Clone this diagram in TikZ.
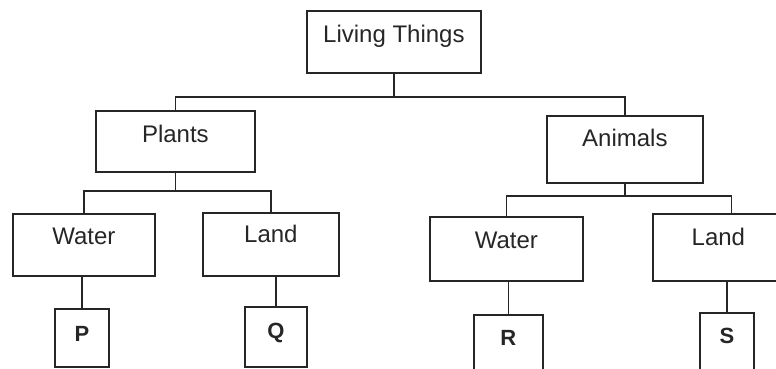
\documentclass[tikz,border=0pt]{standalone}
\usepackage{fontspec}
\setmainfont{Liberation Sans}
\usepackage{tikz}
\tikzstyle{box} = [draw=black!85, line width=1.8pt, inner ysep=0pt, anchor=north west, text=black!85, font=\fontsize{24}{28}\selectfont]
\tikzstyle{leaf} = [box, font=\fontsize{22}{26}\selectfont\bfseries]
\tikzstyle{link} = [draw=black!85, line width=1.8pt]

\begin{document}
\begin{tikzpicture}[x=1pt, y=-1pt]
    \useasboundingbox (0,0) rectangle (776,369);
    \clip (0,0) rectangle (776,369);

    % Top of the tree
    \node[box, minimum width=174pt, text height=32pt, text depth=30pt] (lt) at (306,10) {Living Things};

    % Second level
    \node[box, minimum width=159pt, text height=32pt, text depth=29pt] (plants) at (95,110) {Plants};
    \node[box, minimum width=156pt, text height=31pt, text depth=36pt] (animals) at (546,115) {Animals};

    % Third level
    \node[box, minimum width=142pt, text height=31pt, text depth=31pt] (pwater) at (12,213) {Water};
    \node[box, minimum width=136pt, text height=30pt, text depth=33pt] (pland) at (202,212) {Land};
    \node[box, minimum width=153pt, text height=32pt, text depth=32pt] (awater) at (429,216) {Water};
    \node[box, minimum width=131pt, text height=32pt, text depth=35pt] (aland) at (652,213) {Land};

    % Leaves
    \node[leaf, minimum width=54pt, text height=33pt, text depth=25pt] (p) at (54,308) {P};
    \node[leaf, minimum width=62pt, text height=32pt, text depth=28pt] (q) at (244,306) {Q};
    \node[leaf, minimum width=69pt, text height=31pt, text depth=45pt] (r) at (473,314) {R};
    \node[leaf, minimum width=54pt, text height=31pt, text depth=45pt] (s) at (699,312) {S};

    % Connectors
    \draw[link] (lt.south) -- ++(0,23) coordinate (ltbus);
    \draw[link] (ltbus) -| (plants.north);
    \draw[link] (ltbus) -| (animals.north);
    \draw[link] (plants.south) -- ++(0,18) coordinate (plbus);
    \draw[link] (plbus) -| (pwater.north);
    \draw[link] (plbus) -| (pland.north);
    \draw[link] (animals.south) -- ++(0,12) coordinate (anbus);
    \draw[link] (anbus) -| (awater.north);
    \draw[link] (anbus) -| ([xshift=13pt]aland.north);
    \draw[link] (p.north) -- (p.north |- pwater.south);
    \draw[link] (q.north) -- (q.north |- pland.south);
    \draw[link] (r.north) -- (r.north |- awater.south);
    \draw[link] (s.north) -- (s.north |- aland.south);
\end{tikzpicture}
\end{document}
